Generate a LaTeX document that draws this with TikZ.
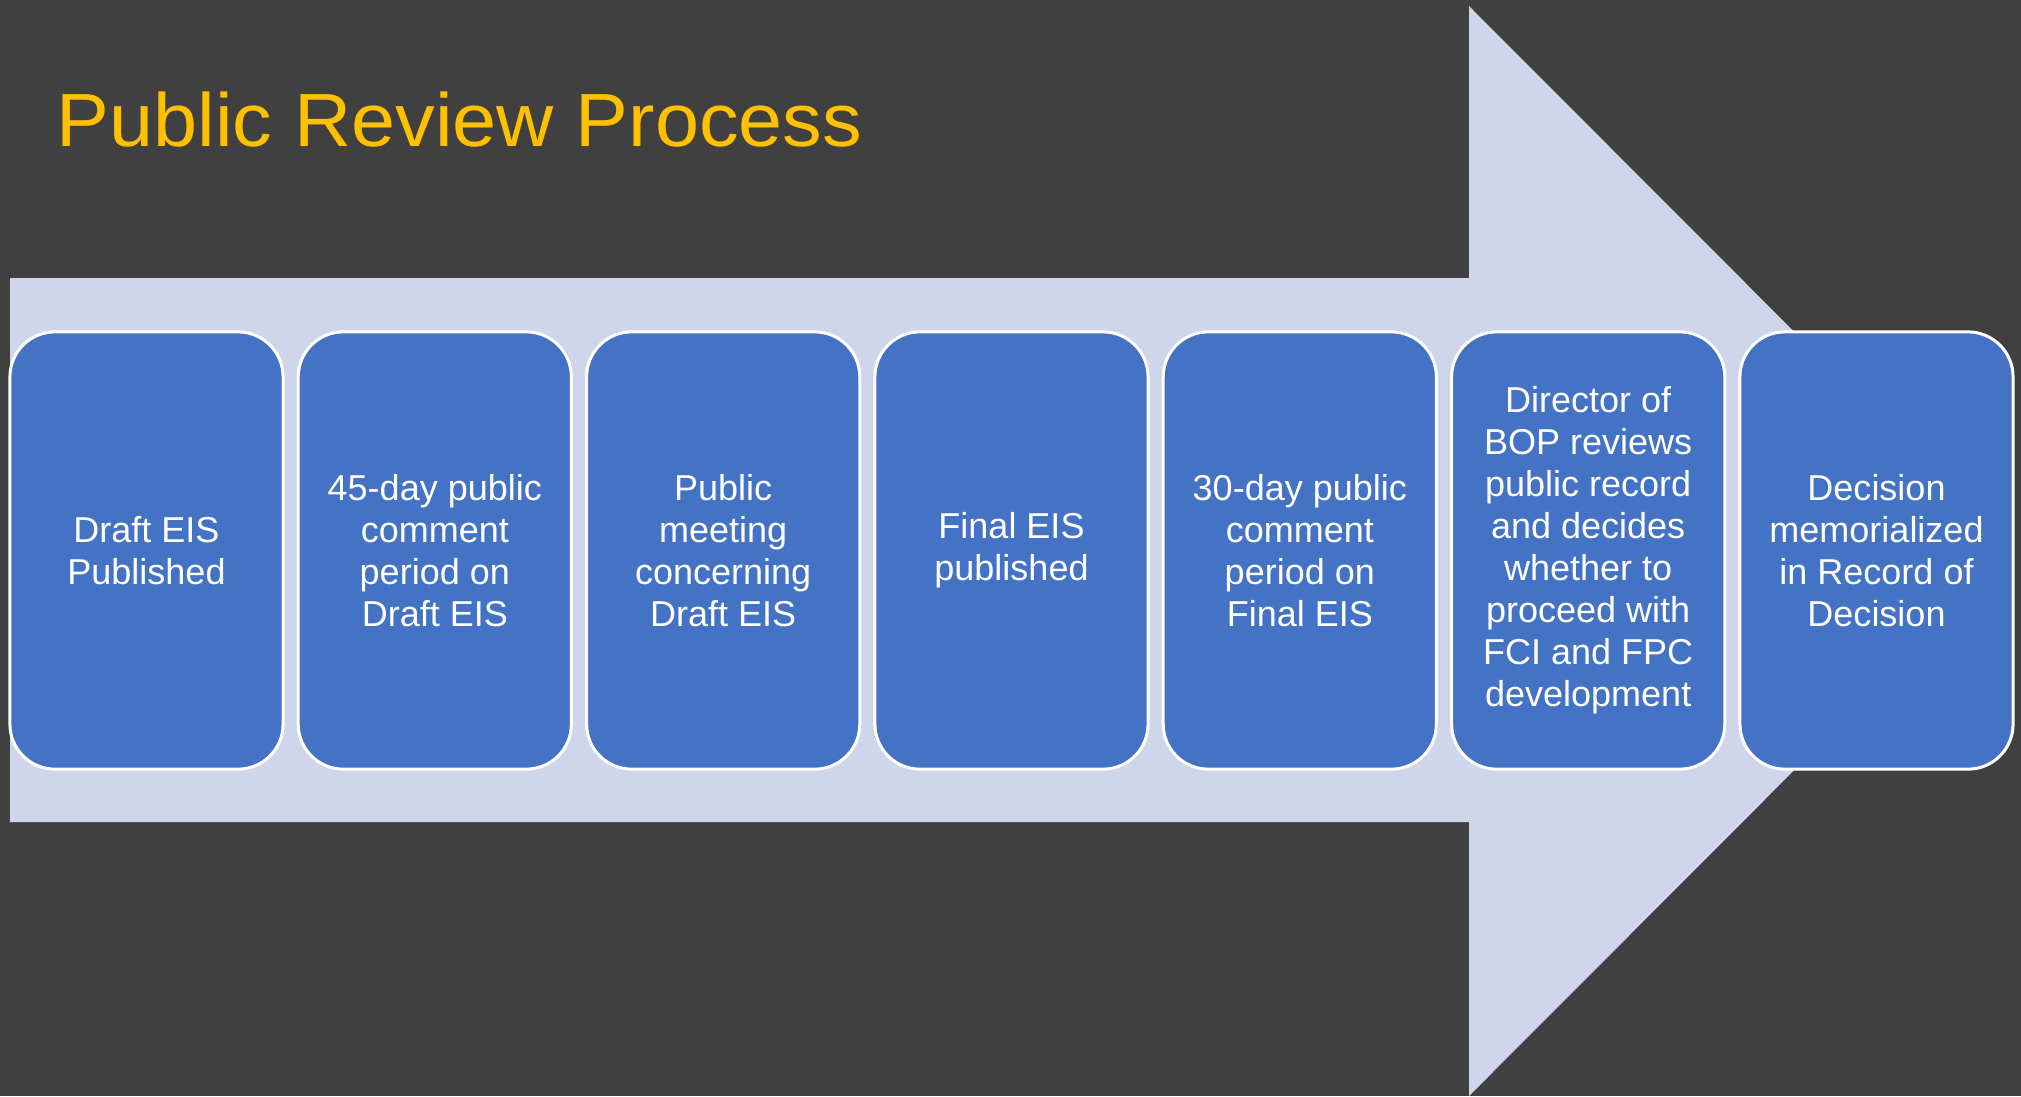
\documentclass[tikz,border=0pt]{standalone}
\usepackage{fontspec}
\setmainfont{Liberation Sans}
\newfontfamily\titlefont[FakeStretch=1.05]{Liberation Sans}
\definecolor{bgdark}{HTML}{404040}
\definecolor{arrowfill}{HTML}{CFD5EA}
\definecolor{boxfill}{HTML}{4472C4}
\definecolor{titlegold}{HTML}{FFC000}
\tikzset{
  stepbox/.style={draw=white, line width=0.03cm, fill=boxfill, rounded corners=0.45cm,
    minimum width=2.73cm, minimum height=4.37cm, inner sep=0pt, align=center,
    text=white, font=\fontsize{10.24}{11.95}\selectfont},
  titletext/.style={anchor=base west, inner sep=0pt, text=titlegold,
    font=\titlefont\fontsize{21.45}{25}\selectfont}
}
\begin{document}
\begin{tikzpicture}[x=0.01cm, y=-0.01cm]
\useasboundingbox (0,0) rectangle (2021,1096);
\fill[bgdark] (0,0) rectangle (2021,1096);
% big arrow
\fill[arrowfill] (10,278) -- (1469,278) -- (1469,6) -- (2013,551) -- (1469,1096) -- (1469,822) -- (10,822) -- cycle;
% title
\node[titletext] (title) at (56,146) {Public Review Process};
% steps
\node[stepbox] (b1) at (146.5,550.5) {Draft EIS\\Published};
\node[stepbox] (b2) at (434.8,550.5) {45-day public\\comment\\period on\\Draft EIS};
\node[stepbox] (b3) at (723.2,550.5) {Public\\meeting\\concerning\\Draft EIS};
\node[stepbox] (b4) at (1011.5,550.5) {Final EIS\\published};
\node[stepbox] (b5) at (1299.8,550.5) {30-day public\\comment\\period on\\Final EIS};
\node[stepbox] (b6) at (1588.2,550.5) {Director of\\BOP reviews\\public record\\and decides\\whether to\\proceed with\\FCI and FPC\\development};
\node[stepbox] (b7) at (1876.5,550.5) {Decision\\memorialized\\in Record of\\Decision};
\end{tikzpicture}
\end{document}
